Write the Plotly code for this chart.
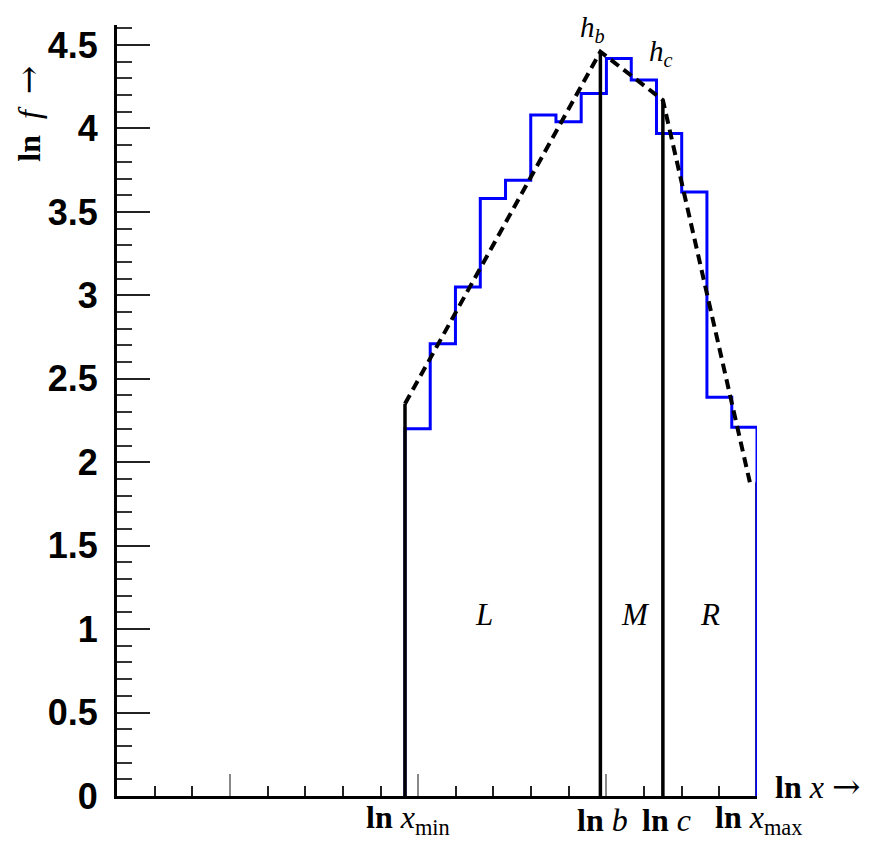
import plotly.graph_objects as go

# ---- data ----
bin_edges = [4.65, 5.32, 5.99, 6.65, 7.32, 7.99, 8.66, 9.33,
             10.00, 10.66, 11.33, 12.00, 12.67, 13.33, 14.00]
bin_values = [2.20, 2.71, 3.05, 3.58, 3.69, 4.08, 4.04, 4.21,
              4.42, 4.29, 3.97, 3.62, 2.39, 2.21]

# piecewise-linear fit (dashed)
fit_x = [4.65, 9.84, 11.50, 13.81]
fit_y = [2.35, 4.46, 4.17, 1.88]

# boundary lines
x_min, ln_b, ln_c, x_max = 4.65, 9.84, 11.50, 14.00
h_min, h_b, h_c, h_max = 2.35, 4.46, 4.17, 1.88

y_tick_vals = [0, 0.5, 1, 1.5, 2, 2.5, 3, 3.5, 4, 4.5]
y_tick_text = ["0", "0.5", "1", "1.5", "2", "2.5", "3", "3.5", "4", "4.5"]

ARROW = '<span style="font-family:DejaVu Serif;font-size:34px">→</span>'
# bottom labels: x in paper fraction of the plot width
bottom_labels = [
    (0.455, "<b>ln</b> <i>x</i><sub>min</sub>"),
    (0.758, "<b>ln</b> <i>b</i>"),
    (0.858, "<b>ln</b> <i>c</i>"),
    (1.003, "<b>ln</b> <i>x</i><sub>max</sub>"),
]
region_labels = [(6.75, 1.09, "L"), (10.78, 1.085, "M"), (12.75, 1.085, "R")]

# ---- figure ----
fig = go.Figure()

# black line at x_max (under the histogram)
fig.add_trace(go.Scatter(x=[x_max, x_max], y=[0, h_max], mode="lines",
                         line=dict(color="black", width=3.5),
                         hoverinfo="skip", showlegend=False))

# step histogram
step_x = [bin_edges[0]] + bin_edges
step_y = [0] + bin_values + [0]
fig.add_trace(go.Scatter(x=step_x, y=step_y, mode="lines", line_shape="hv",
                         line=dict(color="#0000ff", width=3),
                         hoverinfo="skip", showlegend=False))

# black vertical lines at x_min, b, c
for xv, hv in [(x_min, h_min), (ln_b, h_b), (ln_c, h_c)]:
    fig.add_trace(go.Scatter(x=[xv, xv], y=[0, hv], mode="lines",
                             line=dict(color="black", width=3.5),
                             hoverinfo="skip", showlegend=False))

# dashed fit
fig.add_trace(go.Scatter(x=fit_x, y=fit_y, mode="lines",
                         line=dict(color="black", width=4, dash="10px,6px"),
                         hoverinfo="skip", showlegend=False))

serif = "Liberation Serif, Times New Roman, serif"
annotations = []
for xv, txt in bottom_labels:
    annotations.append(dict(x=xv, y=-0.031, xref="paper", yref="paper", text=txt,
                            showarrow=False, xanchor="center", yanchor="middle",
                            font=dict(family=serif, size=32, color="black")))
for xv, yv, txt in region_labels:
    annotations.append(dict(x=xv, y=yv, xref="x", yref="y", text="<i>%s</i>" % txt,
                            showarrow=False, xanchor="center", yanchor="middle",
                            font=dict(family=serif, size=31, color="black")))
annotations.append(dict(x=9.62, y=4.595, xref="x", yref="y",
                        text="<i>h<sub>b</sub></i>", showarrow=False,
                        xanchor="center", yanchor="middle",
                        font=dict(family=serif, size=29, color="black")))
annotations.append(dict(x=11.45, y=4.45, xref="x", yref="y",
                        text="<i>h<sub>c</sub></i>", showarrow=False,
                        xanchor="center", yanchor="middle",
                        font=dict(family=serif, size=29, color="black")))
# axis titles
annotations.append(dict(x=1.025, y=0.013, xref="paper", yref="paper",
                        text="<b>ln</b> <i>x</i> " + ARROW, showarrow=False,
                        xanchor="left", yanchor="middle",
                        font=dict(family=serif, size=32, color="black")))
annotations.append(dict(x=-0.139, y=0.885, xref="paper", yref="paper",
                        text="<b>ln</b>  <i>f</i>  " + ARROW, showarrow=False,
                        textangle=-90, xanchor="center", yanchor="middle",
                        font=dict(family=serif, size=32, color="black")))

# page body has an 8px margin, so the figure is sized/offset to compensate
fig.update_layout(
    width=855, height=836,
    margin=dict(l=109, r=106, t=17, b=48, pad=0),
    paper_bgcolor="white", plot_bgcolor="white",
    showlegend=False,
    annotations=annotations,
    xaxis=dict(range=[-3, 14], showgrid=False, zeroline=False,
               showline=True, linecolor="black", linewidth=3,
               ticks="inside", tick0=0, dtick=5, ticklen=22,
               tickcolor="#888888", tickwidth=1.5, showticklabels=False,
               minor=dict(ticks="inside", dtick=1, tick0=0, ticklen=10,
                          tickcolor="#222222", tickwidth=1.5)),
    yaxis=dict(range=[0, 4.62], showgrid=False, zeroline=False,
               showline=True, linecolor="black", linewidth=3,
               ticks="inside", tickvals=y_tick_vals, ticktext=y_tick_text,
               ticklen=33, tickcolor="#222222", tickwidth=1.5,
               ticklabelstandoff=9,
               tickfont=dict(family="Liberation Sans, Arial, sans-serif",
                             size=36, color="black", weight="bold"),
               minor=dict(ticks="inside", dtick=0.1, tick0=0, ticklen=15,
                          tickcolor="#333333", tickwidth=1.5)),
)

fig.write_html("out.html")
